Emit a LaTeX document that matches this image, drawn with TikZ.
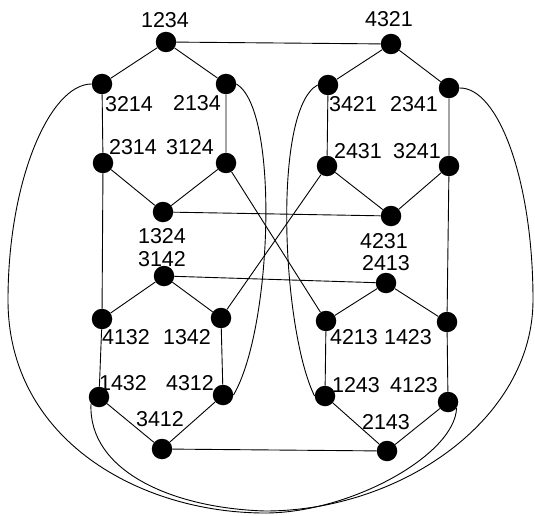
\documentclass[tikz,border=0pt]{standalone}
\usepackage{fontspec}
\setmainfont{Liberation Sans}
\usepackage{tikz}

\begin{document}
\begin{tikzpicture}[x=1pt,y=-1pt,
    vertex/.style={circle,fill=black,minimum size=20.5pt,inner sep=0pt},
    perm/.style={inner sep=0pt,font=\fontsize{21.5}{21.5}\selectfont},
    edge/.style={line width=0.9pt}]
  \useasboundingbox (0,0) rectangle (535,516);

  \node[vertex] (v1234) at (166,42) {};
  \node[vertex] (v3214) at (102,84) {};
  \node[vertex] (v2134) at (226,84) {};
  \node[vertex] (v2314) at (103,163) {};
  \node[vertex] (v3124) at (226,163) {};
  \node[vertex] (v1324) at (163,212) {};

  \node[vertex] (v4321) at (391,44) {};
  \node[vertex] (v3421) at (328,85) {};
  \node[vertex] (v2341) at (449,88) {};
  \node[vertex] (v2431) at (327,166) {};
  \node[vertex] (v3241) at (449,166) {};
  \node[vertex] (v4231) at (391,216) {};

  \node[vertex] (v3142) at (164,276) {};
  \node[vertex] (v4132) at (102,319) {};
  \node[vertex] (v1342) at (221,318) {};
  \node[vertex] (v1432) at (99,397) {};
  \node[vertex] (v4312) at (223,395) {};
  \node[vertex] (v3412) at (162,449) {};

  \node[vertex] (v2413) at (386,283) {};
  \node[vertex] (v4213) at (326,321) {};
  \node[vertex] (v1423) at (447,322) {};
  \node[vertex] (v1243) at (325,396) {};
  \node[vertex] (v4123) at (448,402) {};
  \node[vertex] (v2143) at (387,451) {};

  \node[perm] (t1234) at (165,20) {1234};
  \node[perm] (t3214) at (129,104) {3214};
  \node[perm] (t2134) at (197,103) {2134};
  \node[perm] (t2314) at (133,147) {2314};
  \node[perm] (t3124) at (190,147) {3124};
  \node[perm] (t1324) at (162,236) {1324};

  \node[perm] (t4321) at (389,19) {4321};
  \node[perm] (t3421) at (353,104) {3421};
  \node[perm] (t2341) at (414,104) {2341};
  \node[perm] (t2431) at (358,151) {2431};
  \node[perm] (t3241) at (417,151) {3241};
  \node[perm] (t4231) at (384,241) {4231};

  \node[perm] (t3142) at (162,259) {3142};
  \node[perm] (t4132) at (126,337) {4132};
  \node[perm] (t1342) at (187,337) {1342};
  \node[perm] (t1432) at (123,383) {1432};
  \node[perm] (t4312) at (190,383) {4312};
  \node[perm] (t3412) at (160,419) {3412};

  \node[perm] (t2413) at (386,263) {2413};
  \node[perm] (t4213) at (354,337) {4213};
  \node[perm] (t1423) at (408,337) {1423};
  \node[perm] (t1243) at (356,385) {1243};
  \node[perm] (t4123) at (414,385) {4123};
  \node[perm] (t2143) at (386,422) {2143};

  \draw[edge] (v1234) -- (v3214) -- (v2314) -- (v1324) -- (v3124) -- (v2134) -- (v1234);
  \draw[edge] (v4321) -- (v3421) -- (v2431) -- (v4231) -- (v3241) -- (v2341) -- (v4321);
  \draw[edge] (v3142) -- (v4132) -- (v1432) -- (v3412) -- (v4312) -- (v1342) -- (v3142);
  \draw[edge] (v2413) -- (v4213) -- (v1243) -- (v2143) -- (v4123) -- (v1423) -- (v2413);

  \draw[edge] (v1234) -- (v4321);
  \draw[edge] (v1324) -- (v4231);
  \draw[edge] (v3142) -- (v2413);
  \draw[edge] (v3412) -- (v2143);
  \draw[edge] (v2314) -- (v4132);
  \draw[edge] (v3241) -- (v1423);
  \draw[edge] (v3124) -- (v4213);
  \draw[edge] (v2431) -- (v1342);

  \draw[edge] (v2134.east) .. controls (280,110) and (272,330) .. (v4312.east);
  \draw[edge] (v3421.west) .. controls (272,110) and (282,330) .. (v1243.west);
  \draw[edge] (v3214.west) .. controls (50,84) and (8,180) .. (8,300)
    .. controls (8,440) and (140,513) .. (265,513)
    .. controls (350,513) and (455,455) .. (v4123.-35);
  \draw[edge] (v1432.-140) .. controls (88,470) and (170,508) .. (265,511)
    .. controls (400,511) and (533,420) .. (533,300)
    .. controls (533,180) and (498,87) .. (v2341.east);
\end{tikzpicture}
\end{document}
